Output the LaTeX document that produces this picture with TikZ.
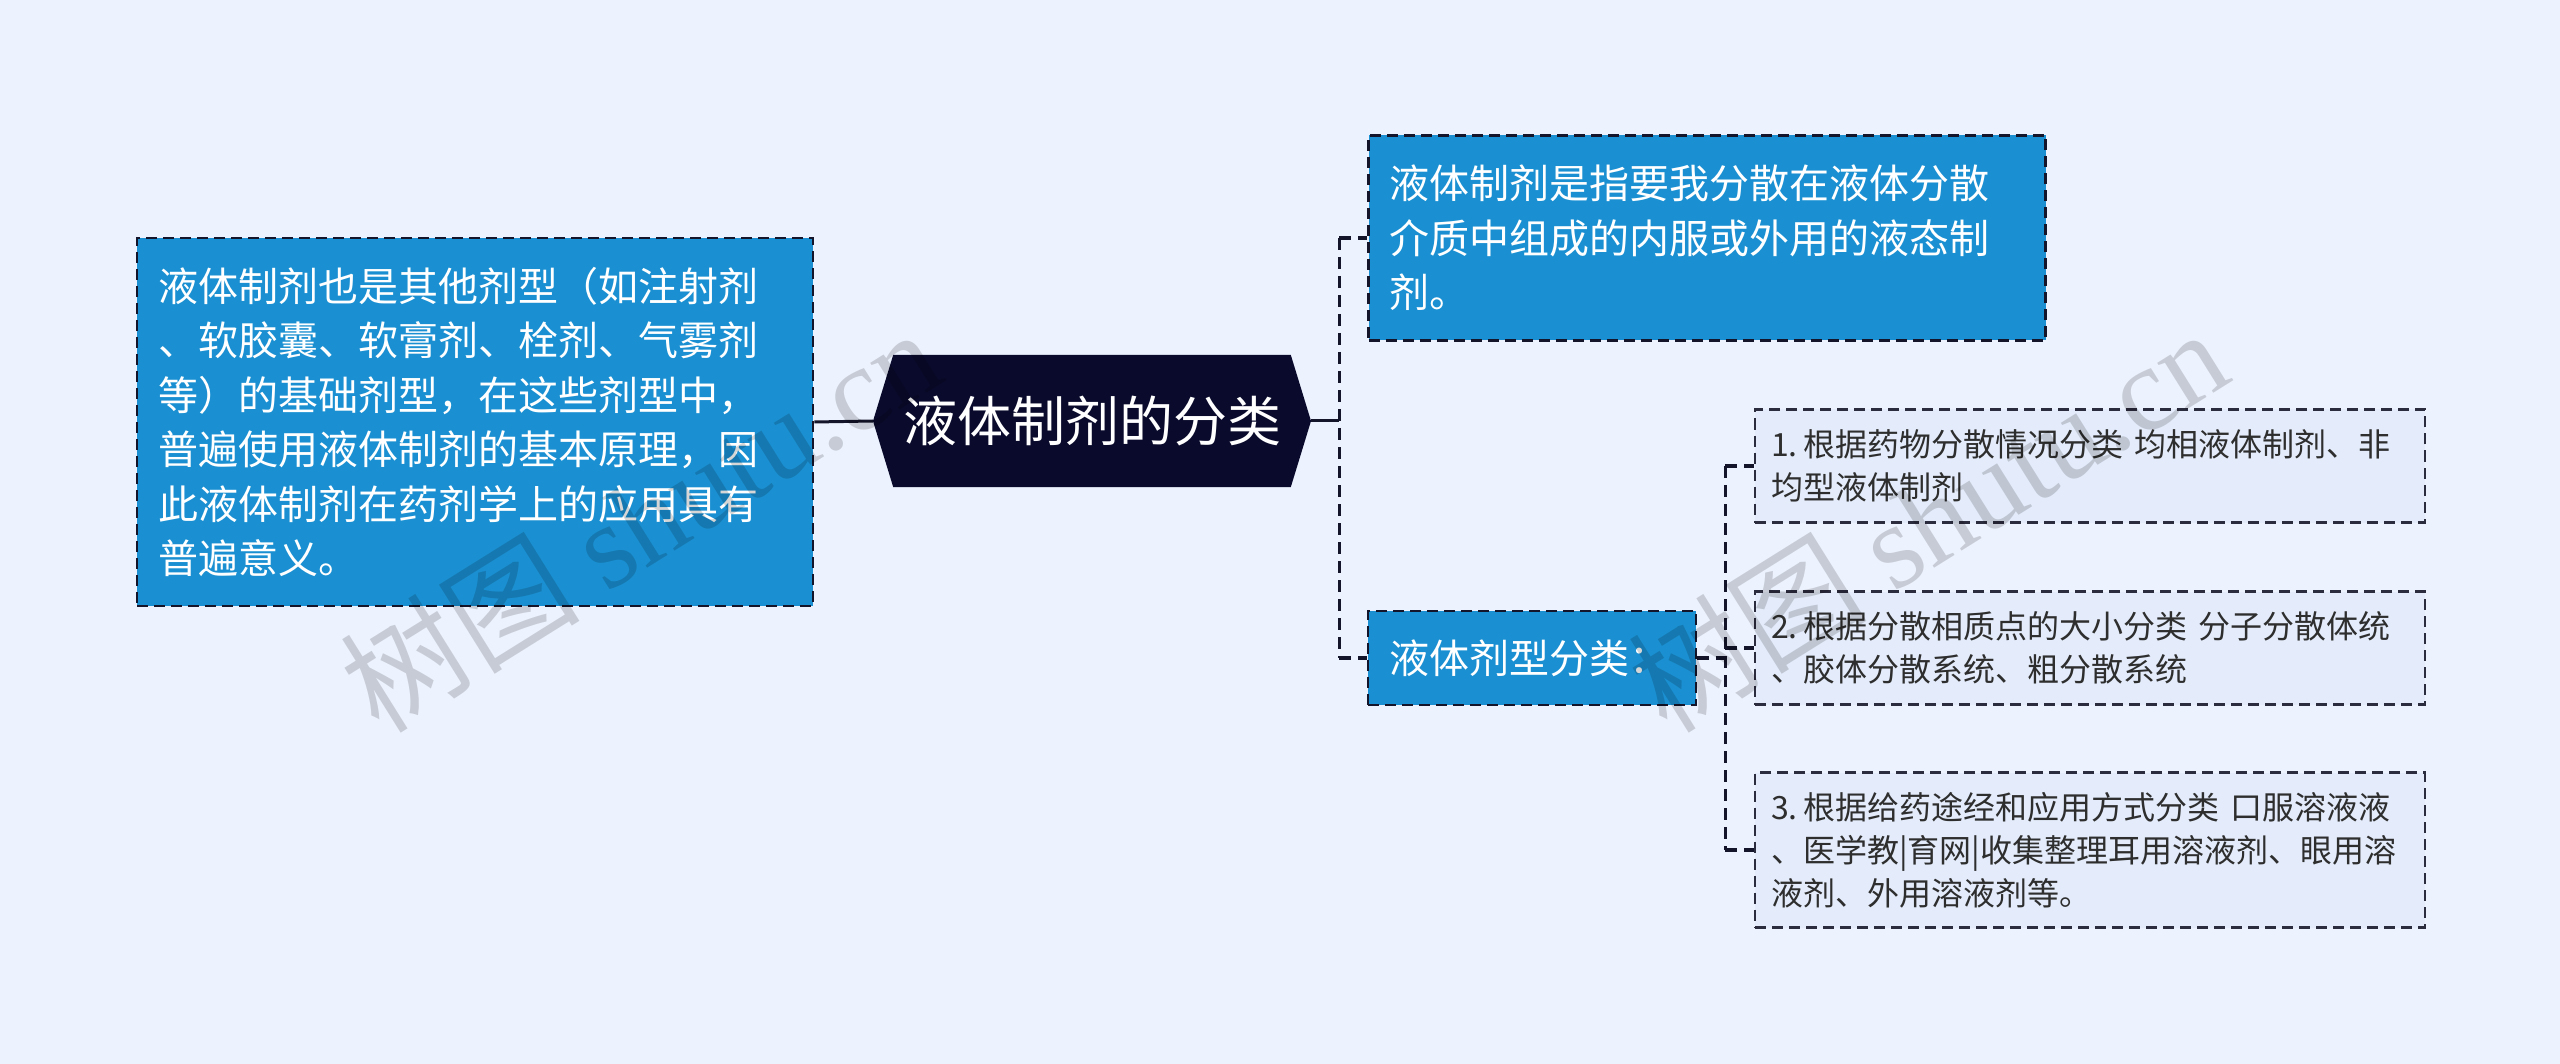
\documentclass[tikz,border=0pt]{standalone}
\usepackage{fontspec}
\setmainfont{Noto Sans CJK SC}
\newfontfamily\wmlatin{Liberation Serif}
\usetikzlibrary{shapes.symbols}

\definecolor{bgcol}{HTML}{EDF3FE}
\definecolor{bluebox}{HTML}{1A90D2}
\definecolor{rootcol}{HTML}{0A0A2C}
\definecolor{leafcol}{HTML}{E4ECFB}
\definecolor{edgecol}{HTML}{14142A}
\definecolor{leaftext}{HTML}{2E2E2E}

\begin{document}
\begin{tikzpicture}[x=1pt, y=-1pt,
  blue node/.style={rectangle, draw=edgecol, line width=2.6pt, dash pattern=on 11pt off 6pt,
    fill=bluebox, text=white, align=left, inner xsep=0pt,
    font=\fontsize{40}{54.5}\selectfont},
  leaf node/.style={rectangle, draw=edgecol!90, line width=2.4pt, dash pattern=on 11pt off 6pt,
    fill=leafcol, text=leaftext, align=left, inner xsep=0pt, minimum width=670,
    text width=638, font=\fontsize{32}{43}\selectfont},
  root node/.style={signal, signal to=east and west, signal pointer angle=146,
    fill=rootcol, text=white, minimum width=438, minimum height=132, inner sep=0pt,
    font=\fontsize{54}{60}\selectfont},
  link/.style={draw=edgecol, line width=3pt},
  trunk/.style={draw=edgecol, line width=3.4pt, dash pattern=on 12pt off 7pt},
  mark text/.style={text=black, opacity=0.16, rotate=32, inner sep=0pt}]

\fill[bgcol] (0,0) rectangle (2560,1064);
\useasboundingbox (0,0) rectangle (2560,1064);

% main nodes
\node[root node] (root) at (1092,421) {液体制剂的分类};

\node[blue node, minimum width=676, minimum height=368, text width=634] (basis) at (475,422)
  {液体制剂也是其他剂型（如注射剂\\、软胶囊、软膏剂、栓剂、气雾剂\\等）的基础剂型，在这些剂型中，\\普遍使用液体制剂的基本原理，因\\此液体制剂在药剂学上的应用具有\\普遍意义。};

\node[blue node, minimum width=677, minimum height=205, text width=635] (meaning) at (1707,238)
  {液体制剂是指要我分散在液体分散\\介质中组成的内服或外用的液态制\\剂。};

\node[blue node, minimum width=328, minimum height=94, text width=286] (kinds) at (1532,658)
  {液体剂型分类：};

% leaves
\node[leaf node, minimum height=113] (k1) at (2090,466)
  {1.\hspace{6pt}根据药物分散情况分类 均相液体制剂、非\\均型液体制剂};
\node[leaf node, minimum height=113] (k2) at (2090,648)
  {2.\hspace{6pt}根据分散相质点的大小分类 分子分散体统\\、胶体分散系统、粗分散系统};
\node[leaf node, minimum height=155] (k3) at (2090,850)
  {3.\hspace{6pt}根据给药途经和应用方式分类 口服溶液液\\、医学教|育网|收集整理耳用溶液剂、眼用溶\\液剂、外用溶液剂等。};

% connectors
\draw[link] (basis.east) -- (root.west);
\draw[link] (root.east) -- ++(28,0) coordinate (j1);
\draw[trunk] (j1 |- meaning.west) -- (j1 |- kinds.west);
\draw[trunk] (j1 |- meaning.west) -- (meaning.west);
\draw[trunk] (j1 |- kinds.west) -- (kinds.west);

\coordinate (j2) at ([xshift=28]kinds.east);
\draw[trunk] (kinds.east) -- (j2);
\draw[trunk] (j2 |- k1.west) -- (j2 |- k3.west);
\draw[trunk] (j2 |- k1.west) -- (k1.west);
\draw[trunk] (j2 |- k2.west) -- (k2.west);
\draw[trunk] (j2 |- k3.west) -- (k3.west);

% watermark
\node[mark text] (mark1) at (640,519) {\fontsize{120}{120}\selectfont 树图 \wmlatin shutu.cn};
\node[mark text] (mark2) at (1927,519) {\fontsize{120}{120}\selectfont 树图 \wmlatin shutu.cn};
\end{tikzpicture}
\end{document}
